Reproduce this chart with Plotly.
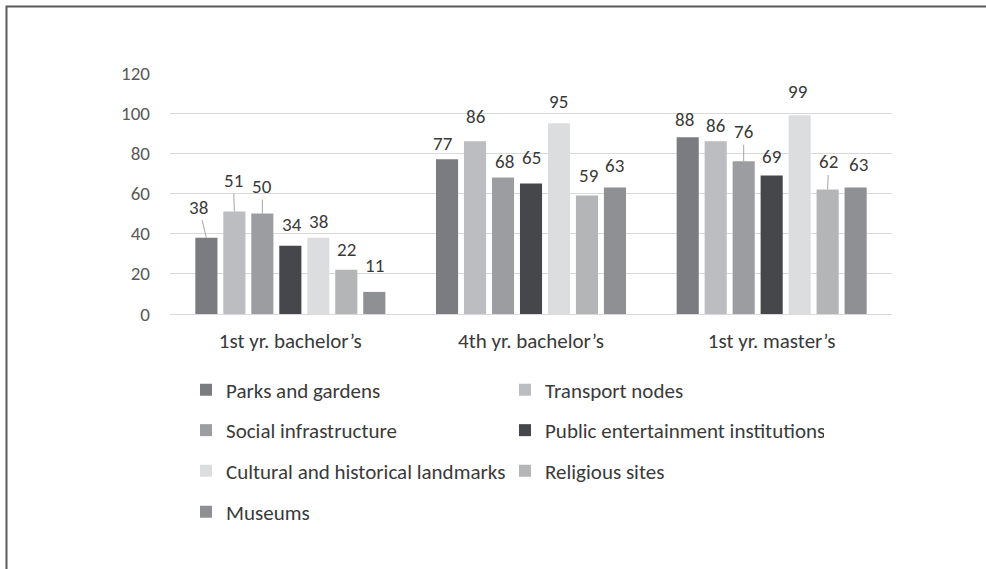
import plotly.graph_objects as go

# ---- data -------------------------------------------------------------
groups = ["1st yr. bachelor’s", "4th yr. bachelor’s", "1st yr. master’s"]
series_names = [
    "Parks and gardens",
    "Transport nodes",
    "Social infrastructure",
    "Public entertainment institutions",
    "Cultural and historical landmarks",
    "Religious sites",
    "Museums",
]
parks = [38, 77, 88]
transport = [51, 86, 86]
social = [50, 68, 76]
entertainment = [34, 65, 69]
cultural = [38, 95, 99]
religious = [22, 59, 62]
museums = [11, 63, 63]
y_ticks = [0, 20, 40, 60, 80, 100, 120]

series_values = [parks, transport, social, entertainment, cultural, religious, museums]

# ---- styling ----------------------------------------------------------
colors = ["#7b7c7f", "#bcbdc0", "#9c9da0", "#46474a", "#dcdddf", "#b4b5b7", "#8f9093"]
FONT = "Carlito, Calibri, Lato, sans-serif"
W, H = 986, 569
L, R, T, B = 170, 94, 73, 255
BARGAP = 0.186

# label offsets in pixels (dx, dy) from the top centre of each bar, per series/group
label_dx = [
    [-7.5, -4, -3.5],
    [-1, 0, 0],
    [0, 1, 0],
    [2, 0, 0],
    [0, 0, -2.5],
    [0, 2, 1],
    [0, 0, 2.5],
]
label_dy = [
    [-30.5, -16, -17.5],
    [-31, -25, -16],
    [-27, -15.5, -29.5],
    [-21, -25.5, -18.5],
    [-16, -21.5, -23.5],
    [-20.5, -20.5, -27.5],
    [-26, -22, -23],
]
# which labels were pulled away from their bars and carry a leader line
leader = [
    [1, 0, 0],
    [1, 0, 0],
    [1, 0, 1],
    [0, 0, 0],
    [0, 0, 0],
    [0, 0, 1],
    [0, 0, 0],
]

legend_rows = ["legend", "legend", "legend2", "legend2", "legend3", "legend3", "legend4"]

fig = go.Figure()
for i, (name, vals) in enumerate(zip(series_names, series_values)):
    fig.add_trace(
        go.Bar(
            name=name,
            x=groups,
            y=vals,
            marker=dict(color=colors[i], line=dict(width=0)),
            legend=legend_rows[i],
            hoverinfo="skip",
        )
    )

# data labels
n = len(series_names)
slot = (1 - BARGAP) / n
annotations = []
for i, vals in enumerate(series_values):
    for g, v in enumerate(vals):
        xpos = g + (i - (n - 1) / 2) * slot
        common = dict(
            x=xpos,
            y=v,
            xref="x",
            yref="y",
            text=str(v),
            font=dict(family=FONT, size=19, color="#3a3a3a"),
        )
        if leader[i][g]:
            annotations.append(
                dict(
                    **common,
                    showarrow=True,
                    arrowhead=0,
                    arrowwidth=1,
                    arrowcolor="#a6a6a6",
                    ax=label_dx[i][g],
                    ay=label_dy[i][g],
                    axref="pixel",
                    ayref="pixel",
                    standoff=0,
                    startstandoff=0,
                )
            )
        else:
            annotations.append(
                dict(
                    **common,
                    showarrow=False,
                    xshift=label_dx[i][g],
                    yshift=-label_dy[i][g],
                )
            )

# chart frame (top and left edges visible, continues past the page)
pw, ph = W - L - R, H - T - B
def px_x(p):
    return (p - L) / pw
def px_y(p):
    return (H - B - p) / ph

shapes = [
    dict(
        type="rect",
        xref="paper",
        yref="paper",
        x0=px_x(6.5),
        x1=px_x(W + 20),
        y0=px_y(H + 20),
        y1=px_y(6.5),
        line=dict(color="#5a5a5a", width=2),
        fillcolor="rgba(0,0,0,0)",
        layer="below",
    )
]

legend_style = dict(
    orientation="h",
    xref="container",
    yref="container",
    xanchor="left",
    yanchor="middle",
    x=186 / W,
    font=dict(family=FONT, size=21, color="#3a3a3a"),
    entrywidth=274,
    entrywidthmode="pixels",
    bgcolor="rgba(0,0,0,0)",
    traceorder="normal",
)
row_y = [390, 430.5, 471, 512]

fig.update_layout(
    width=W,
    height=H,
    margin=dict(l=L, r=R, t=T, b=B),
    paper_bgcolor="white",
    plot_bgcolor="white",
    barmode="group",
    bargap=BARGAP,
    bargroupgap=0.21,
    showlegend=True,
    legend=dict(**legend_style, y=1 - row_y[0] / H),
    legend2=dict(**legend_style, y=1 - row_y[1] / H),
    legend3=dict(**legend_style, y=1 - row_y[2] / H),
    legend4=dict(**legend_style, y=1 - row_y[3] / H),
    xaxis=dict(
        type="category",
        showgrid=False,
        showline=True,
        linecolor="#d9d9d9",
        linewidth=1,
        ticks="",
        tickfont=dict(family=FONT, size=21, color="#3a3a3a"),
        ticklabelstandoff=8,
    ),
    yaxis=dict(
        range=[0, 120],
        tickvals=y_ticks,
        showgrid=True,
        gridcolor="#d9d9d9",
        gridwidth=1,
        zeroline=False,
        showline=False,
        ticks="",
        tickfont=dict(family=FONT, size=19, color="#595959"),
        ticklabelstandoff=19,
    ),
    annotations=annotations,
    shapes=shapes,
)

fig.write_html("out.html")
